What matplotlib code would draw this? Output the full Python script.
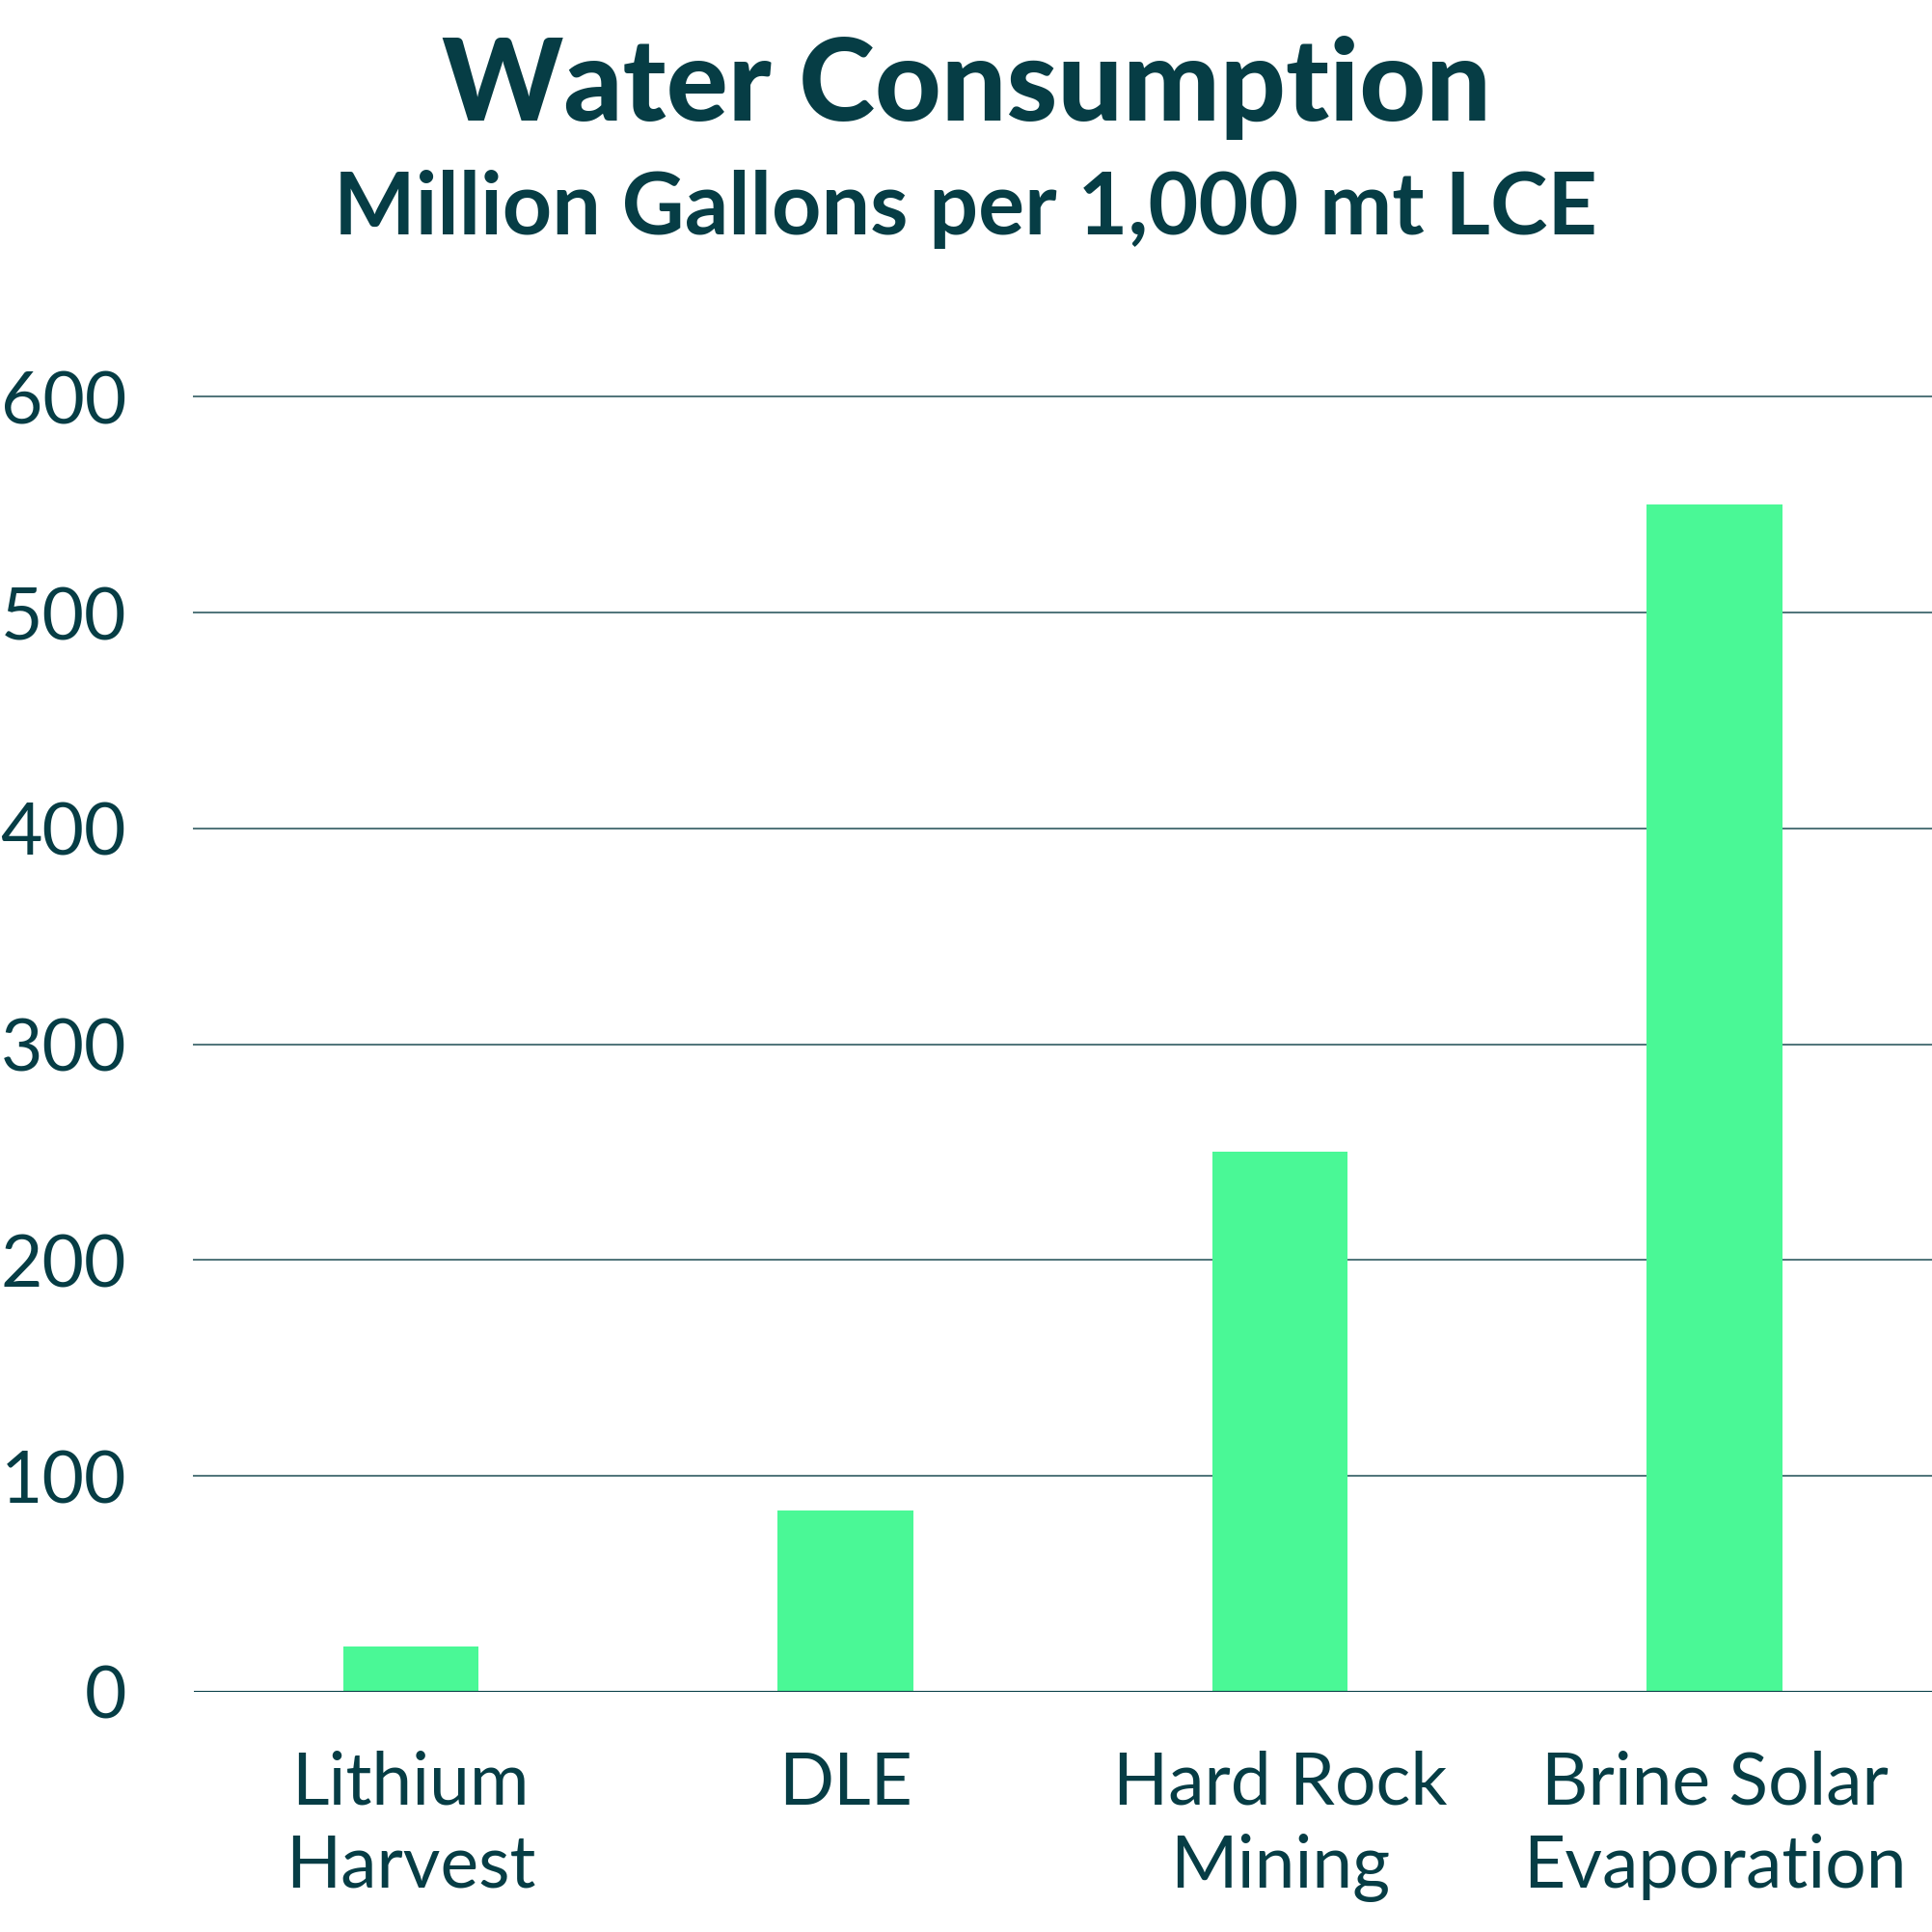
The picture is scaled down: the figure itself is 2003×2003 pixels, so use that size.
import matplotlib
matplotlib.use("Agg")
import matplotlib.pyplot as plt

categories = ["Lithium\nHarvest", "DLE", "Hard Rock\nMining", "Brine Solar\nEvaporation"]
values = [21, 84, 250, 550]
yticks = [0, 100, 200, 300, 400, 500, 600]

TEXT = "#063D45"
BAR = "#4AF896"
GRID = "#4F7479"

plt.rcParams['font.family'] = ['Lato', 'DejaVu Sans']

fig = plt.figure(figsize=(20.03, 20.03), dpi=100)
ax = fig.add_axes([0.1001, 0.1244, 0.8999, 0.6702])

x = list(range(len(categories)))
ax.bar(x, values, width=0.312, color=BAR, zorder=2)
ax.set_xlim(-0.5, len(categories) - 0.5)
ax.set_ylim(0, 600)
ax.set_yticks(yticks)
ax.set_yticklabels([str(v) for v in yticks])
ax.set_xticks(x)
ax.set_xticklabels(categories, linespacing=1.3)

for v in yticks[1:]:
    ax.axhline(v, color=GRID, lw=1.4, zorder=1, clip_on=False)
ax.axhline(0, color=TEXT, lw=2.2, zorder=3)

for s in ax.spines.values():
    s.set_visible(False)
ax.tick_params(axis='both', length=0, labelsize=54, colors=TEXT)
ax.tick_params(axis='y', pad=50)
ax.tick_params(axis='x', pad=44)

fig.text(0.5, 0.9375, "Water Consumption", ha='center', va='baseline',
         fontsize=86, fontweight='black', color=TEXT)
fig.text(0.5, 0.8788, "Million Gallons per 1,000 mt LCE", ha='center', va='baseline',
         fontsize=64.5, fontweight='bold', color=TEXT)

fig.savefig("out.png", dpi=100, facecolor='white')
